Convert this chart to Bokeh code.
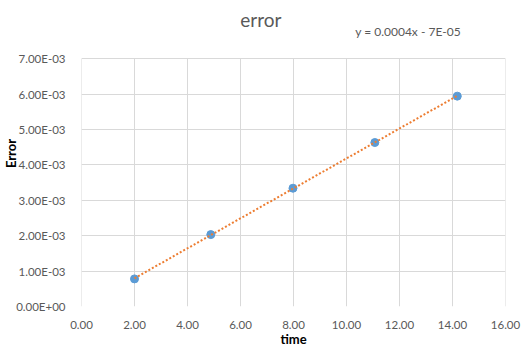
import numpy as np
from bokeh.plotting import figure
from bokeh.models import Range1d, FixedTicker, CustomJSTickFormatter, NumeralTickFormatter
from bokeh.core.properties import value
from bokeh.embed import file_html
from bokeh.resources import INLINE

time = [2.0, 4.88, 7.98, 11.07, 14.18]
error = [0.00078, 0.00203, 0.00334, 0.00463, 0.00594]
x_ticks = [0, 2, 4, 6, 8, 10, 12, 14, 16]
y_ticks = [0, 0.001, 0.002, 0.003, 0.004, 0.005, 0.006, 0.007]
title_text = "error"
equation_text = "y = 0.0004x - 7E-05"

FONT = "Lato"
GREY = "#595959"
GRID = "#d9d9d9"

Y_MAX = 0.007
Y_TOP = Y_MAX + 58 * (Y_MAX / 247.5)  # leave room above the plot area for title

p = figure(width=530, height=350, output_backend="svg", toolbar_location=None,
           x_range=Range1d(0, 16), y_range=Range1d(0, Y_TOP),
           min_border_left=81, min_border_right=25, min_border_top=0, min_border_bottom=44)
p.outline_line_color = None
p.background_fill_color = "white"
p.border_fill_color = "white"

for ax in (p.xaxis[0], p.yaxis[0]):
    ax.axis_line_color = None
    ax.major_tick_line_color = None
    ax.minor_tick_line_color = None
    ax.major_label_text_font = FONT
    ax.major_label_text_font_size = "11.5px"
    ax.major_label_text_color = GREY
    ax.axis_label_text_font = FONT
    ax.axis_label_text_font_size = "13px"
    ax.axis_label_text_font_style = "bold"
    ax.axis_label_text_color = "black"

p.xaxis.ticker = FixedTicker(ticks=x_ticks)
p.yaxis.ticker = FixedTicker(ticks=y_ticks)
p.xaxis.formatter = NumeralTickFormatter(format="0.00")
p.yaxis.formatter = CustomJSTickFormatter(code="""
const s = tick.toExponential(2).toUpperCase();
const m = s.split('E');
let e = parseInt(m[1]);
const sign = e < 0 ? '-' : '+';
e = Math.abs(e);
return m[0] + 'E' + sign + (e < 10 ? '0' : '') + e;
""")
p.xaxis.axis_label = "time"
p.yaxis.axis_label = "Error"
p.xaxis.major_label_standoff = 8
p.yaxis.major_label_standoff = 10
p.xaxis.axis_label_standoff = -1
p.yaxis.axis_label_standoff = -6

# horizontal grid from the library, vertical grid limited to plot area
p.ygrid.grid_line_color = GRID
p.xgrid.visible = False
p.segment(x0=x_ticks, y0=[0] * len(x_ticks), x1=x_ticks, y1=[Y_MAX] * len(x_ticks),
          line_color=GRID, line_width=1)

p.scatter(time, error, size=8, fill_color="#5b9bd5", line_color="#5b9bd5")

coef = np.polyfit(time, error, 1)
tx = [min(time), max(time)]
ty = [coef[0] * v + coef[1] for v in tx]
p.line(tx, ty, line_color="#ed7d31", line_width=2, line_dash="2 2")

p.text(x=[5.99], y=[0.0081], text=[title_text], text_font=value(FONT), text_font_size="19px",
       text_color=GREY, text_baseline="middle", text_align="left")
p.text(x=[10.33], y=[0.00776], text=[equation_text], text_font=value(FONT), text_font_size="12px",
       text_color=GREY, text_baseline="middle", text_align="left")

open("out.html", "w").write(file_html(p, INLINE))
